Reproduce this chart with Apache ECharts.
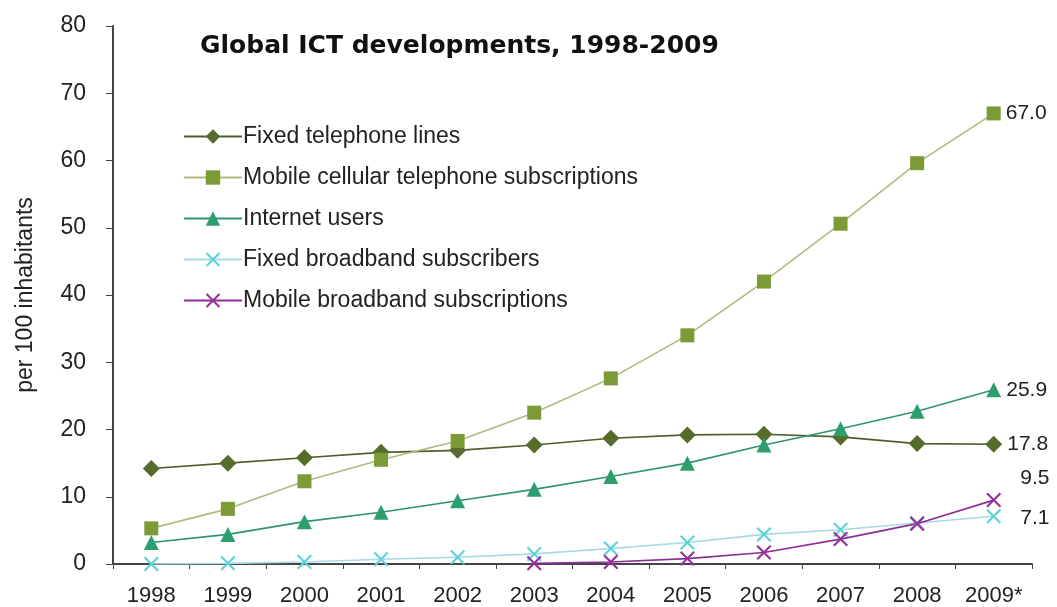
<!DOCTYPE html>
<html>
<head>
<meta charset="utf-8">
<script src="https://cdn.jsdelivr.net/npm/echarts@6/dist/echarts.min.js"></script>
<style>
  html, body { margin: 0; padding: 0; background: #fff; }
  #chart { width: 1057px; height: 607px; }
</style>
</head>
<body>
<div id="chart"></div>
<script>
// Years on the category axis
const years = ['1998', '1999', '2000', '2001', '2002', '2003', '2004', '2005', '2006', '2007', '2008', '2009*'];

// Values per 100 inhabitants
const fixedTelephone = [14.2, 15.0, 15.8, 16.6, 16.9, 17.7, 18.7, 19.2, 19.3, 18.9, 17.9, 17.8];
const mobileCellular = [5.3, 8.2, 12.3, 15.5, 18.3, 22.5, 27.6, 34.0, 42.0, 50.6, 59.6, 67.0];
const internetUsers = [3.2, 4.4, 6.3, 7.7, 9.4, 11.1, 13.0, 15.0, 17.7, 20.1, 22.7, 25.9];
const fixedBroadband = [0.0, 0.1, 0.3, 0.7, 1.0, 1.5, 2.3, 3.2, 4.4, 5.1, 6.1, 7.1];
const mobileBroadband = [null, null, null, null, null, 0.1, 0.3, 0.8, 1.7, 3.7, 6.0, 9.5];

const yTicks = { min: 0, max: 80, interval: 10 };

const baseFont = 'Liberation Sans, Arial, sans-serif';
const crossPath = 'path://M0,1L1,0L10,9L9,10Z M9,0L10,1L1,10L0,9Z';

// Attach a value label to the last point of a series
function withEndLabel(values, offset) {
  return values.map(function (v, i) {
    if (i !== values.length - 1) return v;
    return {
      value: v,
      label: {
        show: true,
        position: 'right',
        distance: 5,
        offset: offset || [0, 0],
        formatter: function (p) { return Number(p.value).toFixed(1); },
        color: '#222',
        fontSize: 21,
        fontFamily: baseFont
      }
    };
  });
}

function lineSeries(name, values, lineColor, markColor, symbol, size, offset) {
  return {
    name: name,
    type: 'line',
    data: withEndLabel(values, offset),
    symbol: symbol,
    symbolSize: size,
    showAllSymbol: true,
    lineStyle: { color: lineColor, width: 1.6 },
    itemStyle: { color: markColor },
    emphasis: { disabled: true },
    animation: false,
    z: 3
  };
}

const chart = echarts.init(document.getElementById('chart'), null, { renderer: 'canvas' });

chart.setOption({
  backgroundColor: '#ffffff',
  textStyle: { fontFamily: baseFont },
  title: {
    text: 'Global ICT developments, 1998-2009',
    left: 195,
    top: 29,
    textStyle: { fontSize: 25, fontWeight: 'bold', color: '#111', fontFamily: 'DejaVu Sans, Liberation Sans, sans-serif' }
  },
  legend: {
    orient: 'vertical',
    left: 178,
    top: 120,
    itemWidth: 58,
    itemHeight: 18,
    itemGap: 18,
    textStyle: { fontSize: 23, color: '#222', padding: [0, 0, 0, -4] },
    data: [
      'Fixed telephone lines',
      'Mobile cellular telephone subscriptions',
      'Internet users',
      'Fixed broadband subscribers',
      'Mobile broadband subscriptions'
    ]
  },
  grid: { left: 113, right: 25, top: 26, bottom: 43, containLabel: false },
  xAxis: {
    type: 'category',
    data: years,
    boundaryGap: true,
    axisLine: { show: true, lineStyle: { color: '#444', width: 2 } },
    axisTick: { show: true, length: 5, lineStyle: { color: '#444' } },
    axisLabel: { fontSize: 22, color: '#222', margin: 21, interval: 0 }
  },
  yAxis: {
    type: 'value',
    min: yTicks.min,
    max: yTicks.max,
    interval: yTicks.interval,
    name: 'per 100 inhabitants',
    nameLocation: 'middle',
    nameGap: 76,
    nameTextStyle: { fontSize: 23, color: '#222' },
    axisLine: { show: true, lineStyle: { color: '#444', width: 2 } },
    axisTick: { show: true, length: 7, lineStyle: { color: '#444' } },
    axisLabel: { fontSize: 23, color: '#222', margin: 27 },
    splitLine: { show: false }
  },
  series: [
    lineSeries('Fixed telephone lines', fixedTelephone, '#4f5e28', '#566b2c', 'diamond', 17),
    lineSeries('Mobile cellular telephone subscriptions', mobileCellular, '#b4b87c', '#7c9a36', 'rect', 14),
    lineSeries('Internet users', internetUsers, '#2f9470', '#2f9e6e', 'triangle', 15),
    lineSeries('Fixed broadband subscribers', fixedBroadband, '#a4dbe6', '#5fd2d8', crossPath, 15, [14, 2]),
    lineSeries('Mobile broadband subscriptions', mobileBroadband, '#8e2d94', '#972f9c', crossPath, 15, [14, -22])
  ]
});
</script>
</body>
</html>
